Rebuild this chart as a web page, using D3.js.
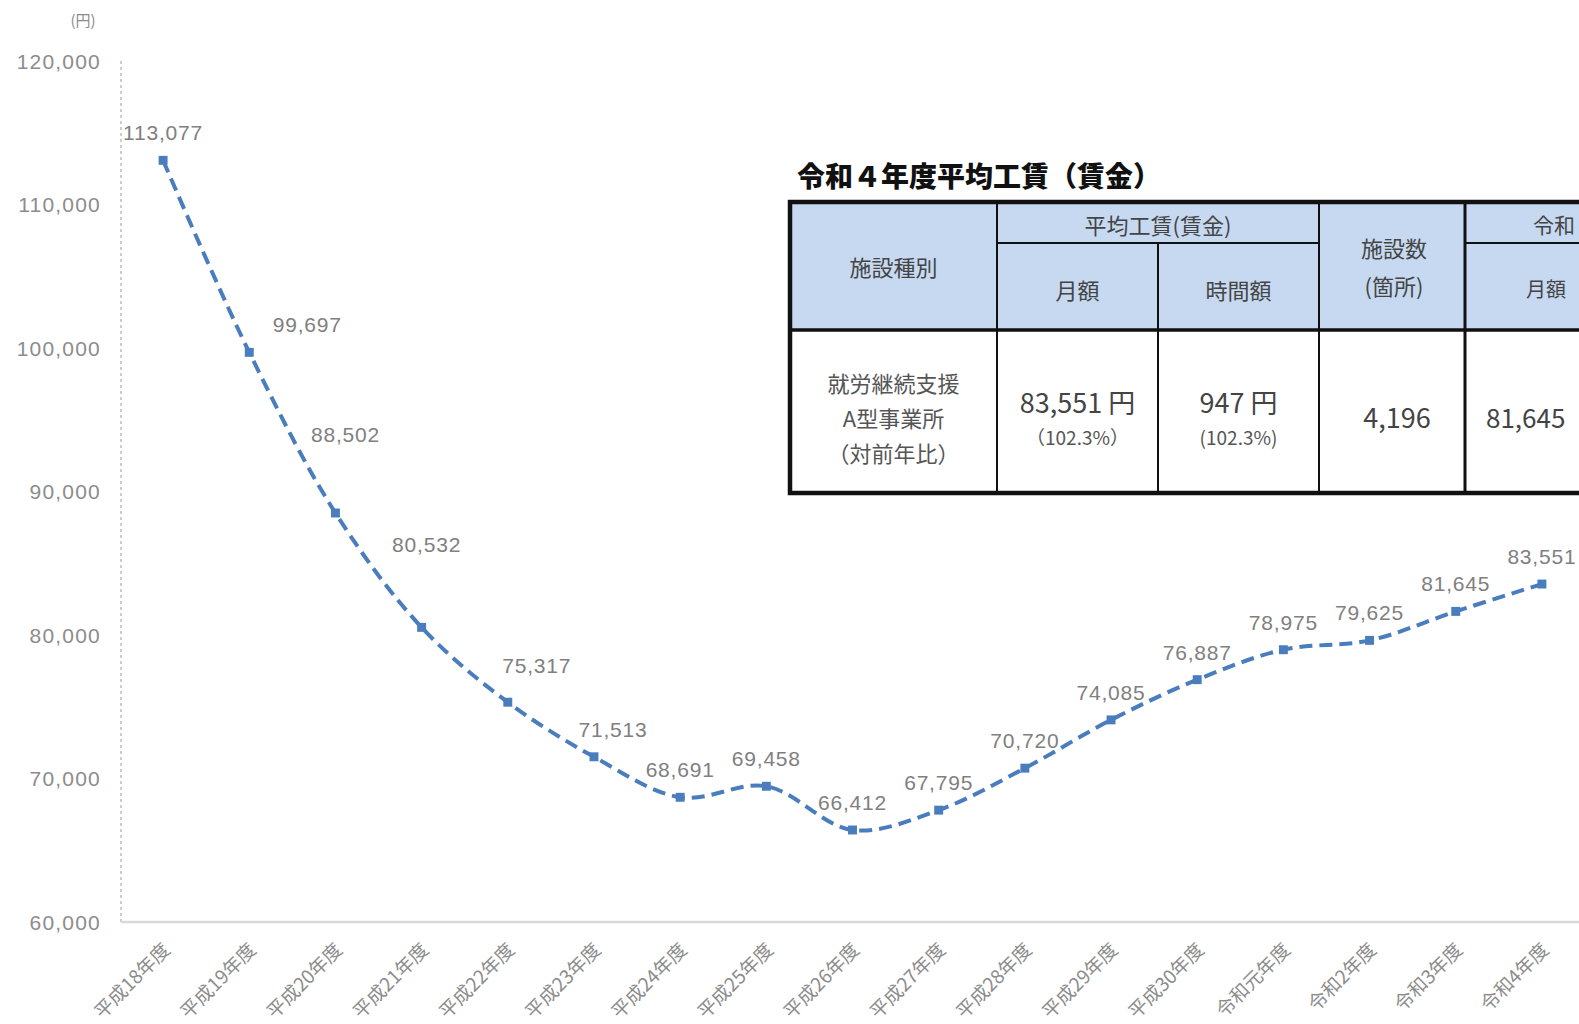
<!DOCTYPE html>
<html lang="ja">
<head>
<meta charset="utf-8">
<title>就労継続支援A型事業所 平均工賃の推移</title>
<script src="https://cdn.jsdelivr.net/npm/d3@7"></script>
<style>
  html, body { margin: 0; padding: 0; background: #fff; }
  svg { display: block; }
  text { font-family: "Liberation Sans", "Noto Sans CJK JP", sans-serif; }
  .jp { font-family: "Noto Sans CJK JP", sans-serif; }
</style>
</head>
<body>
<svg id="chart" width="1579" height="1024"></svg>
<script>
// 年度ごとの平均工賃（月額・円）
const years = ["平成18年度","平成19年度","平成20年度","平成21年度","平成22年度","平成23年度",
  "平成24年度","平成25年度","平成26年度","平成27年度","平成28年度","平成29年度",
  "平成30年度","令和元年度","令和2年度","令和3年度","令和4年度"];
const wages = [113077, 99697, 88502, 80532, 75317, 71513, 68691, 69458, 66412,
  67795, 70720, 74085, 76887, 78975, 79625, 81645, 83551];
const yTicks = [60000, 70000, 80000, 90000, 100000, 110000, 120000];
const yUnit = "(円)";

// 令和4年度平均工賃の表
const tableTitle = "令和４年度平均工賃（賃金）";
const headGroup = "平均工賃(賃金)";
const headSub = ["月額", "時間額"];
const headType = "施設種別";
const headCount = ["施設数", "(箇所)"];
const headPrev = "令和";
const headPrevSub = ["月額"];
const rowType = ["就労継続支援", "A型事業所", "（対前年比）"];
const rowMonthly = ["83,551 円", "（102.3%）"];
const rowHourly = ["947 円", "(102.3%)"];
const rowCount = "4,196";
const rowPrevMonthly = "81,645";

const svg = d3.select("#chart");
const W = 1579, H = 1024;
svg.append("rect").attr("width", W).attr("height", H).attr("fill", "#fff");

const x = d3.scalePoint().domain(years).range([120, 1585]).padding(0.5);
const y = d3.scaleLinear().domain([60000, 120000]).range([922, 61]);
const fmt = d3.format(",");

// 縦軸（点線）
svg.append("line")
  .attr("x1", 121).attr("x2", 121).attr("y1", y(120000)).attr("y2", y(60000))
  .attr("stroke", "#bdbdbd").attr("stroke-width", 1.5).attr("stroke-dasharray", "3 3");

// 横軸
svg.append("line")
  .attr("x1", 121).attr("x2", W).attr("y1", y(60000)).attr("y2", y(60000))
  .attr("stroke", "#d9d9d9").attr("stroke-width", 2.5);

// 縦軸目盛ラベル
const yAxis = d3.axisLeft(y).tickValues(yTicks).tickFormat(fmt).tickSize(0).tickPadding(0);
const gy = svg.append("g").attr("transform", "translate(101,0)").call(yAxis);
gy.select(".domain").remove();
gy.selectAll("text")
  .attr("font-family", "Liberation Sans, sans-serif")
  .attr("font-size", 21).attr("fill", "#8c8c8c").attr("letter-spacing", "1.2")
  .attr("dy", "0.35em");

svg.append("text").attr("class", "jp")
  .attr("x", 83).attr("y", 26).attr("text-anchor", "middle")
  .attr("font-size", 15).attr("fill", "#8c8c8c").text(yUnit);

// 横軸ラベル（斜め）
const gx = svg.append("g");
gx.selectAll("text").data(years).join("text")
  .attr("class", "jp")
  .attr("transform", d => `translate(${x(d) + 8},${951}) rotate(-45)`)
  .attr("text-anchor", "end")
  .attr("font-size", 19).attr("fill", "#8c8c8c")
  .text(d => d);

// 折れ線（破線・平滑化）
const line = d3.line()
  .x((d, i) => x(years[i]))
  .y(d => y(d))
  .curve(d3.curveCatmullRom.alpha(0.5));

svg.append("path").datum(wages)
  .attr("d", line)
  .attr("fill", "none")
  .attr("stroke", "#4a7dbd")
  .attr("stroke-width", 4)
  .attr("stroke-dasharray", "13 7")
  .attr("stroke-linecap", "butt");

// マーカー
svg.append("g").selectAll("path").data(wages).join("path")
  .attr("transform", (d, i) => `translate(${x(years[i])},${y(d)})`)
  .attr("d", d3.symbol(d3.symbolSquare, 80))
  .attr("fill", "#4a7dbd");

// データラベル（重なりを避けるための個別調整つき）
const nudge = { 1: [58, 0], 2: [10, -51], 3: [5, -55], 4: [29, -9], 5: [19, 0] };
svg.append("g").selectAll("text").data(wages).join("text")
  .attr("x", (d, i) => x(years[i]) + (nudge[i] ? nudge[i][0] : 0))
  .attr("y", (d, i) => y(d) - 20 + (nudge[i] ? nudge[i][1] : 0))
  .attr("text-anchor", "middle")
  .attr("font-family", "Liberation Sans, sans-serif")
  .attr("font-size", 21).attr("fill", "#808080").attr("letter-spacing", "0.8")
  .text(d => fmt(d));

// ===== 表 =====
const T = svg.append("g");
T.append("text").attr("class", "jp")
  .attr("x", 797).attr("y", 187)
  .attr("font-size", 28).attr("font-weight", 900).attr("fill", "#111")
  .text(tableTitle);

const colX = [790, 997, 1158, 1319, 1465, 1627, 1790];
const rowY = [202, 243, 330, 493];

// 見出し背景
T.append("rect").attr("x", colX[0]).attr("y", rowY[0])
  .attr("width", colX[6] - colX[0]).attr("height", rowY[2] - rowY[0])
  .attr("fill", "#c6d9f1");
T.append("rect").attr("x", colX[0]).attr("y", rowY[2])
  .attr("width", colX[6] - colX[0]).attr("height", rowY[3] - rowY[2])
  .attr("fill", "#ffffff");

const ln = (x1, y1, x2, y2, w) => T.append("line")
  .attr("x1", x1).attr("y1", y1).attr("x2", x2).attr("y2", y2)
  .attr("stroke", "#111").attr("stroke-width", w);

// 内側の罫線
ln(colX[1], rowY[0], colX[1], rowY[3], 2);
ln(colX[2], rowY[1], colX[2], rowY[3], 2);
ln(colX[3], rowY[0], colX[3], rowY[3], 2);
ln(colX[4], rowY[0], colX[4], rowY[3], 3);
ln(colX[5], rowY[1], colX[5], rowY[3], 2);
ln(colX[1], rowY[1], colX[3], rowY[1], 2);
ln(colX[4], rowY[1], colX[6], rowY[1], 2);
ln(colX[0], rowY[2], colX[6], rowY[2], 3.5);
// 外枠
T.append("rect").attr("x", colX[0]).attr("y", rowY[0])
  .attr("width", colX[6] - colX[0]).attr("height", rowY[3] - rowY[0])
  .attr("fill", "none").attr("stroke", "#111").attr("stroke-width", 4.5);

const cellText = (cx, cy, txt, size, color, anchor) => T.append("text")
  .attr("class", "jp")
  .attr("x", cx).attr("y", cy).attr("text-anchor", anchor || "middle")
  .attr("dominant-baseline", "central")
  .attr("font-size", size).attr("fill", color || "#444")
  .text(txt);

const mid = (a, b) => (a + b) / 2;
cellText(mid(colX[0], colX[1]), mid(rowY[0], rowY[2]), headType, 22);
cellText(mid(colX[1], colX[3]), mid(rowY[0], rowY[1]) + 1, headGroup, 22);
cellText(mid(colX[1], colX[2]), mid(rowY[1], rowY[2]) + 2, headSub[0], 22);
cellText(mid(colX[2], colX[3]), mid(rowY[1], rowY[2]) + 2, headSub[1], 22);
cellText(mid(colX[3], colX[4]) + 2, 247, headCount[0], 22);
cellText(mid(colX[3], colX[4]) + 2, 285, headCount[1], 22);
cellText(1533, mid(rowY[0], rowY[1]) + 1, headPrev, 21, "#444", "start");
cellText(mid(colX[4], colX[5]), mid(rowY[1], rowY[2]) + 2, headPrevSub[0], 20);

rowType.forEach((t, i) => cellText(mid(colX[0], colX[1]), 382 + i * 35, t, 22, "#555"));
cellText(mid(colX[1], colX[2]), 401, rowMonthly[0], 27, "#444");
cellText(mid(colX[1], colX[2]), 436, rowMonthly[1], 19, "#555");
cellText(mid(colX[2], colX[3]), 401, rowHourly[0], 27, "#444");
cellText(mid(colX[2], colX[3]), 436, rowHourly[1], 19, "#555");
cellText(mid(colX[3], colX[4]) + 5, 416, rowCount, 27, "#444");
cellText(1486, 416, rowPrevMonthly, 26, "#444", "start");
</script>
</body>
</html>
